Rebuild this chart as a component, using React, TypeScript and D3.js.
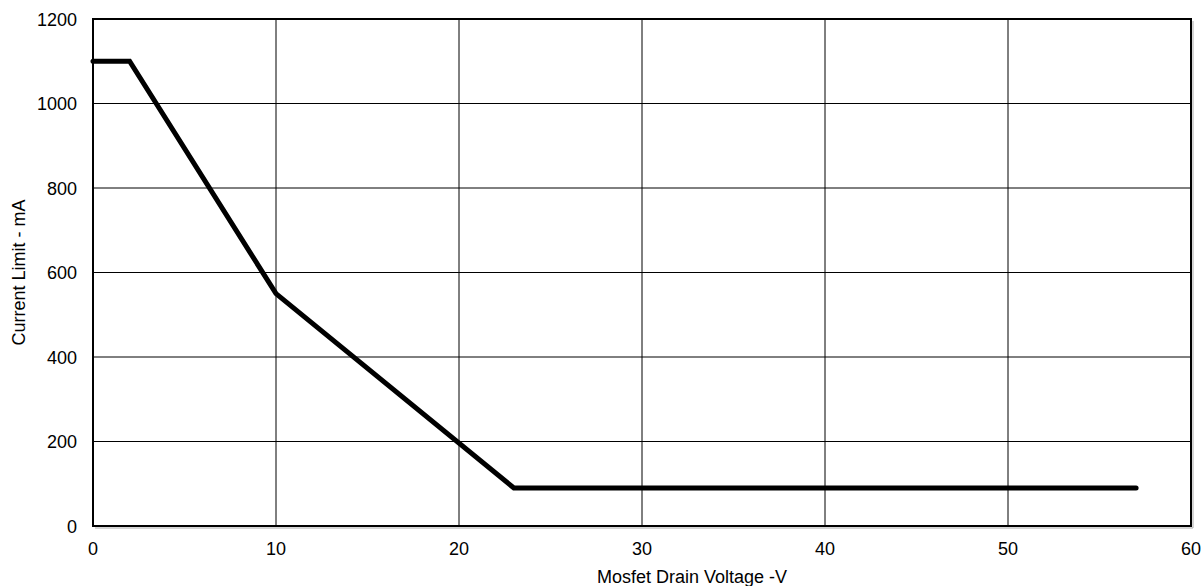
import React from "react";
import * as d3 from "d3";

const voltage = [0, 2, 10, 23, 57];
const currentLimit = [1100, 1100, 550, 90, 90];
const xTicks = [0, 10, 20, 30, 40, 50, 60];
const yTicks = [0, 200, 400, 600, 800, 1000, 1200];
const xTitle = "Mosfet Drain Voltage -V";
const yTitle = "Current Limit - mA";

export default function App() {
  const W = 1202, H = 586;
  const L = 93, R = 1191, T = 19, B = 526;
  const x = d3.scaleLinear().domain([0, 60]).range([L, R]);
  const y = d3.scaleLinear().domain([0, 1200]).range([B, T]);
  const pts = voltage.map((v, i) => [v, currentLimit[i]] as [number, number]);
  const line = d3.line<[number, number]>().x(d => x(d[0])).y(d => y(d[1]));
  const font = "Liberation Sans, Arial, sans-serif";
  const fs = 18;
  return (
    <svg width={W} height={H} style={{ position: "absolute", left: 0, top: 0 }}>
      <rect width={W} height={H} fill="#fff" />
      {xTicks.slice(1, -1).map(t => (
        <line key={"gx" + t} x1={x(t)} x2={x(t)} y1={T} y2={B} stroke="#000" strokeWidth={1} />
      ))}
      {yTicks.slice(1, -1).map(t => (
        <line key={"gy" + t} x1={L} x2={R} y1={y(t)} y2={y(t)} stroke="#000" strokeWidth={1} />
      ))}
      <line x1={R + 2} x2={R + 2} y1={T + 2} y2={B + 2} stroke="#aaa" strokeWidth={1} />
      <line x1={L + 2} x2={R + 2} y1={B + 2} y2={B + 2} stroke="#aaa" strokeWidth={1} />
      <rect x={L} y={T} width={R - L} height={B - T} fill="none" stroke="#000" strokeWidth={2} />
      <path d={line(pts) || ""} fill="none" stroke="#000" strokeWidth={5} strokeLinejoin="miter" strokeLinecap="round" />
      {xTicks.map(t => (
        <text key={"xt" + t} x={x(t)} y={555} textAnchor="middle" fontFamily={font} fontSize={fs} fill="#000">{t}</text>
      ))}
      {yTicks.map(t => (
        <text key={"yt" + t} x={77} y={y(t) + 6.5} textAnchor="end" fontFamily={font} fontSize={fs} fill="#000">{t}</text>
      ))}
      <text x={597} y={583} textAnchor="start" fontFamily={font} fontSize={fs} fill="#000">{xTitle}</text>
      <text transform={`translate(25,${(T + B) / 2}) rotate(-90)`} textAnchor="middle" fontFamily={font} fontSize={fs} fill="#000">{yTitle}</text>
    </svg>
  );
}
